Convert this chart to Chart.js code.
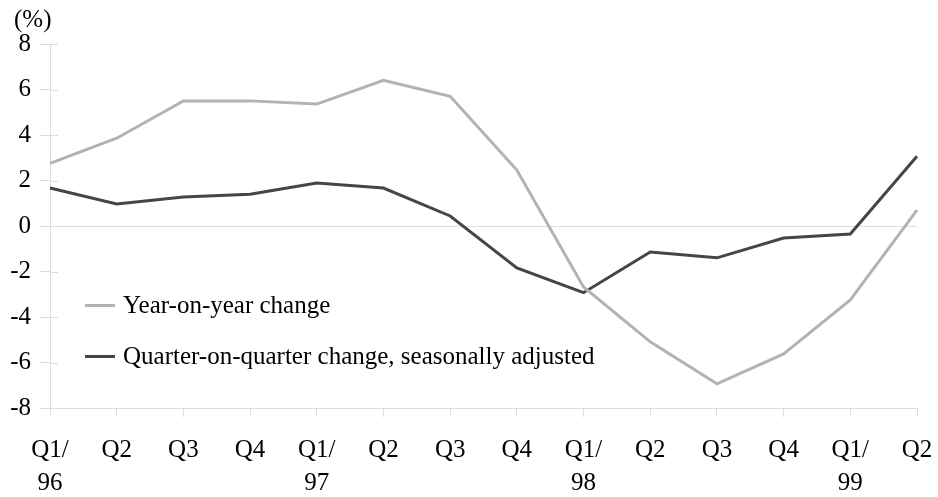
<!DOCTYPE html>
<html>
<head>
<meta charset="utf-8">
<script src="https://cdn.jsdelivr.net/npm/chart.js@4/dist/chart.umd.min.js"></script>
<style>
  body { margin: 0; background: #fff; }
  #wrap { position: relative; width: 938px; height: 497px; font-family: 'Liberation Serif', 'Times New Roman', serif; }
  #unit { position: absolute; left: 14px; top: 5px; font-size: 25px; line-height: 28px; color: #000; }
  #legend { position: absolute; left: 85px; top: 288px; font-size: 25px; color: #000; }
  .row { display: flex; align-items: center; height: 34px; margin-bottom: 17px; white-space: nowrap; }
  .swatch { width: 30px; height: 3px; margin-right: 8px; }
</style>
</head>
<body>
<div id="wrap">
  <canvas id="lineChart" width="938" height="497"></canvas>
  <div id="unit">(%)</div>
  <div id="legend"></div>
</div>
<script>
const quarters = [['Q1/', '96'], 'Q2', 'Q3', 'Q4', ['Q1/', '97'], 'Q2', 'Q3', 'Q4', ['Q1/', '98'], 'Q2', 'Q3', 'Q4', ['Q1/', '99'], 'Q2'];
const yoyChange = [2.75, 3.86, 5.5, 5.5, 5.36, 6.4, 5.7, 2.46, -2.68, -5.09, -6.94, -5.62, -3.25, 0.7];
const qoqChange = [1.67, 0.97, 1.27, 1.4, 1.89, 1.67, 0.44, -1.84, -2.93, -1.14, -1.4, -0.53, -0.35, 3.07];
const seriesNames = ['Year-on-year change', 'Quarter-on-quarter change, seasonally adjusted'];
const seriesColors = ['#b3b3b3', '#454545'];

const axisGrey = '#dcdcdc';
const font = { family: "'Liberation Serif', 'Times New Roman', serif", size: 25 };

// little tick stubs that cross into the plot on the y axis
const innerTicks = {
    id: 'innerTicks',
    afterDraw(chart) {
        const y = chart.scales.y;
        const left = chart.chartArea.left;
        const ctx = chart.ctx;
        ctx.save();
        ctx.strokeStyle = axisGrey;
        ctx.lineWidth = 1;
        y.ticks.forEach(t => {
            const py = Math.round(y.getPixelForValue(t.value)) + 0.5;
            ctx.beginPath();
            ctx.moveTo(left, py);
            ctx.lineTo(left + 8, py);
            ctx.stroke();
        });
        ctx.restore();
    }
};

const chart = new Chart(document.getElementById('lineChart'), {
    type: 'line',
    data: {
        labels: quarters,
        datasets: [
            { label: seriesNames[0], data: yoyChange, borderColor: seriesColors[0], borderWidth: 3, pointRadius: 0, tension: 0 },
            { label: seriesNames[1], data: qoqChange, borderColor: seriesColors[1], borderWidth: 3, pointRadius: 0, tension: 0 }
        ]
    },
    options: {
        responsive: false,
        animation: false,
        layout: { padding: { top: 44, right: 21, left: 0, bottom: 0 } },
        plugins: {
            legend: { display: false },
            tooltip: { enabled: false }
        },
        scales: {
            x: {
                offset: false,
                afterFit: s => { s.height = 89; s.paddingLeft = 0; s.paddingRight = 0; },
                grid: { drawOnChartArea: false, tickLength: 9, tickColor: axisGrey, color: axisGrey },
                border: { color: axisGrey },
                ticks: { color: '#000', font: { ...font, lineHeight: 1.32 }, padding: 17, autoSkip: false, maxRotation: 0 }
            },
            y: {
                min: -8,
                max: 8,
                afterFit: s => { s.width = 50; },
                grid: {
                    color: ctx => ctx.tick && ctx.tick.value === 0 ? axisGrey : 'rgba(0,0,0,0)',
                    tickColor: axisGrey,
                    tickLength: 10
                },
                border: { color: axisGrey },
                ticks: { stepSize: 2, color: '#000', font: font, padding: 9 }
            }
        }
    },
    plugins: [innerTicks]
});

const legend = document.getElementById('legend');
seriesNames.forEach((name, i) => {
    const row = document.createElement('div');
    row.className = 'row';
    const sw = document.createElement('span');
    sw.className = 'swatch';
    sw.style.background = seriesColors[i];
    const txt = document.createElement('span');
    txt.textContent = name;
    row.appendChild(sw);
    row.appendChild(txt);
    legend.appendChild(row);
});
</script>
</body>
</html>
